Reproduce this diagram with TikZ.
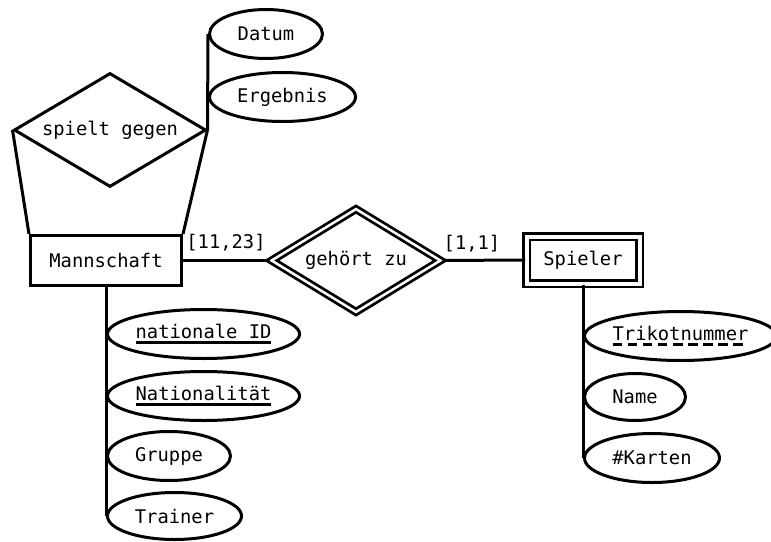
\documentclass[tikz,border=0pt]{standalone}
\usepackage{fontspec}
\setmonofont{DejaVu Sans Mono}
\usetikzlibrary{shapes}
\newcommand{\keyattr}[1]{\vtop{\hbox{#1}\kern2.5pt\hrule height 2.8pt}}
\newcommand{\partkey}[1]{\setbox0\hbox{#1}\vtop{\copy0\kern2.5pt\nointerlineskip\hbox to \wd0{\xleaders\hbox{\rule{9.5pt}{2.8pt}\hskip5.5pt}\hfill}}}

\begin{document}
\begin{tikzpicture}[x=1pt,y=-1pt,line width=3pt,font=\ttfamily\fontsize{18.8}{21}\selectfont]

\tikzstyle{entity} = [draw, rectangle, inner sep=0, minimum width=151, minimum height=50]
\tikzstyle{weakentity} = [draw, rectangle, double, double distance=4pt, line width=2.8pt, inner sep=0,
minimum width=113, minimum height=47]
\tikzstyle{relation} = [draw, diamond, aspect=1.68, inner sep=0, minimum width=192, minimum height=114]
\tikzstyle{weakrelation} = [draw, diamond, aspect=1.6, double, double distance=2.5pt, line width=2.8pt,
inner sep=0, minimum width=170, minimum height=104]
\tikzstyle{attribute} = [draw, ellipse, inner sep=0, anchor=west, minimum height=49]

\useasboundingbox (0,0) rectangle (771,541);

\node [relation] (spiel) at (110,130) {spielt gegen};
\node [entity] (mann) at (106,260.5) {Mannschaft};
\node [weakrelation] (gehoert) at (356,260.5) {gehört zu};
\node [weakentity] (spieler) at (583,260) {Spieler};

\node [attribute, minimum width=113] (datum) at (208,34) {Datum};
\node [attribute, minimum width=146] (ergebnis) at (208,97) {Ergebnis};

\node [attribute, minimum width=191] (nid) at (106,334) {\keyattr{nationale ID}};
\node [attribute, minimum width=191] (nat) at (106,396) {\keyattr{Nationalität}};
\node [attribute, minimum width=123] (gruppe) at (106,456) {Gruppe};
\node [attribute, minimum width=134, minimum height=47] (trainer) at (106,516) {Trainer};

\node [attribute, minimum width=185] (trikot) at (583,336) {\partkey{Trikotnummer}};
\node [attribute, minimum width=101, minimum height=47] (name) at (583,397) {Name};
\node [attribute, minimum width=135] (karten) at (583,458) {\#Karten};

\node (card1) at (226,243) {[11,23]};
\node (card2) at (472,244) {[1,1]};

\draw (spiel.west) -- (mann.north west);
\draw (spiel.east) -- (mann.north east);
\draw (spiel.east) -- (datum.west);
\draw (mann.east) -- (gehoert.west);
\draw (gehoert.east) -- (spieler.west);
\draw (mann.south) -- (trainer.west);
\draw (spieler.south) -- (karten.west);

\end{tikzpicture}
\end{document}
